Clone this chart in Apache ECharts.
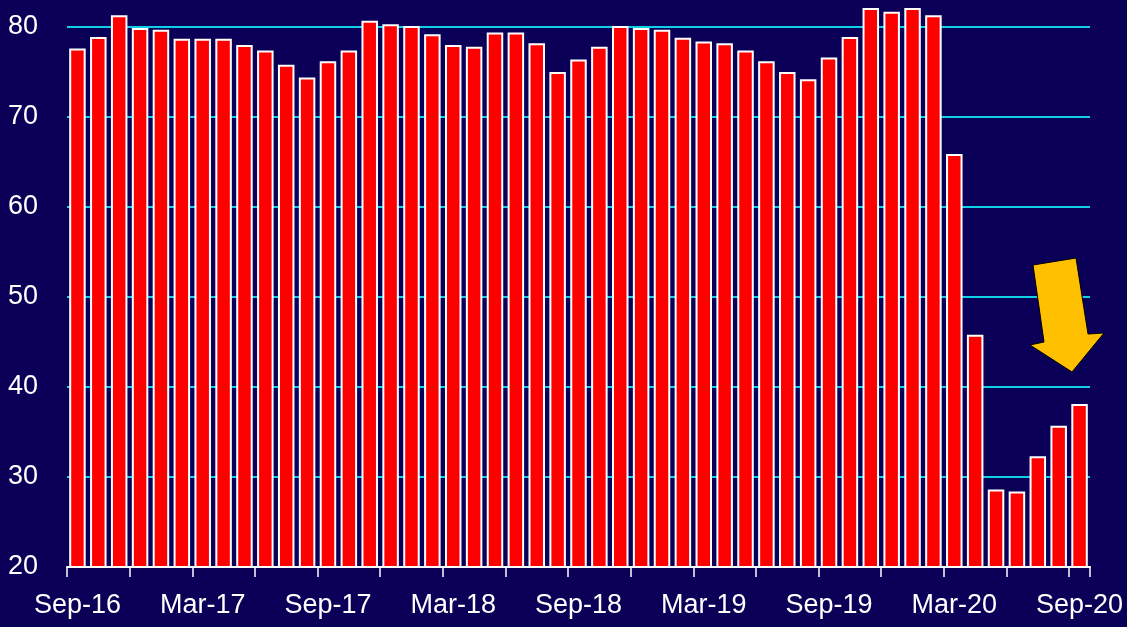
<!DOCTYPE html>
<html>
<head>
<meta charset="utf-8">
<script src="https://cdn.jsdelivr.net/npm/echarts@6/dist/echarts.min.js"></script>
<style>
  html, body { margin: 0; padding: 0; background: #0a0057; }
  #chart { width: 1127px; height: 627px; }
</style>
</head>
<body>
<div id="chart"></div>
<script>
var months = [
    'Sep-16', 'Oct-16', 'Nov-16', 'Dec-16',
    'Jan-17', 'Feb-17', 'Mar-17', 'Apr-17', 'May-17', 'Jun-17', 'Jul-17', 'Aug-17', 'Sep-17', 'Oct-17', 'Nov-17', 'Dec-17',
    'Jan-18', 'Feb-18', 'Mar-18', 'Apr-18', 'May-18', 'Jun-18', 'Jul-18', 'Aug-18', 'Sep-18', 'Oct-18', 'Nov-18', 'Dec-18',
    'Jan-19', 'Feb-19', 'Mar-19', 'Apr-19', 'May-19', 'Jun-19', 'Jul-19', 'Aug-19', 'Sep-19', 'Oct-19', 'Nov-19', 'Dec-19',
    'Jan-20', 'Feb-20', 'Mar-20', 'Apr-20', 'May-20', 'Jun-20', 'Jul-20', 'Aug-20', 'Sep-20'
];

var values = [
    77.6, 78.9, 81.3, 79.9,
    79.7, 78.7, 78.7, 78.7, 78.0, 77.4, 75.8, 74.4, 76.2, 77.4, 80.7, 80.3,
    80.1, 79.2, 78.0, 77.8, 79.4, 79.4, 78.2, 75.0, 76.4, 77.8, 80.1, 79.9,
    79.7, 78.8, 78.4, 78.2, 77.4, 76.2, 75.0, 74.2, 76.6, 78.9, 82.1, 81.7,
    82.1, 81.3, 65.9, 45.8, 28.6, 28.4, 32.3, 35.7, 38.1
];

var yTicks = [20, 30, 40, 50, 60, 70, 80];

// no narrow font available here, so a slightly smaller sans keeps the widths right
var labelFont = "'Liberation Sans Narrow', 'Arial Narrow', 'Liberation Sans', Arial, sans-serif";

var chart = echarts.init(document.getElementById('chart'));

chart.setOption({
    backgroundColor: '#0a0057',
    animation: false,
    grid: {
        left: 67,
        right: 37,
        top: -63,
        bottom: 60,
        containLabel: false,
        outerBoundsMode: 'none'
    },
    xAxis: {
        type: 'category',
        data: months,
        boundaryGap: true,
        axisLine: { show: true, lineStyle: { color: '#ffffff', width: 2 } },
        axisTick: { show: true, interval: 2, alignWithLabel: false, length: 10, lineStyle: { color: '#ffffff', width: 1.5 } },
        axisLabel: {
            interval: 5,
            color: '#ffffff',
            fontFamily: labelFont,
            fontSize: 27,
            margin: 25
        },
        splitLine: { show: false }
    },
    yAxis: {
        type: 'value',
        min: 20,
        max: 90,
        interval: 10,
        axisLine: { show: false },
        axisTick: { show: false },
        axisLabel: {
            color: '#ffffff',
            fontFamily: labelFont,
            fontSize: 27,
            margin: 29,
            formatter: function (v) {
                return yTicks.indexOf(v) >= 0 ? String(v) : '';
            }
        },
        splitLine: { show: true, lineStyle: { color: '#10d0e8', width: 2 } }
    },
    series: [{
        type: 'bar',
        data: values,
        barCategoryGap: '21%',
        itemStyle: {
            color: '#ff0000',
            borderColor: '#ffffff',
            borderWidth: 2
        }
    }],
    graphic: [{
        type: 'polygon',
        z: 100,
        shape: {
            points: [
                [1033, 265], [1076, 258], [1088, 334], [1104, 333],
                [1072, 372], [1030, 345], [1044, 342]
            ]
        },
        style: { fill: '#ffc000', stroke: '#000000', lineWidth: 1 }
    }]
});
</script>
</body>
</html>
